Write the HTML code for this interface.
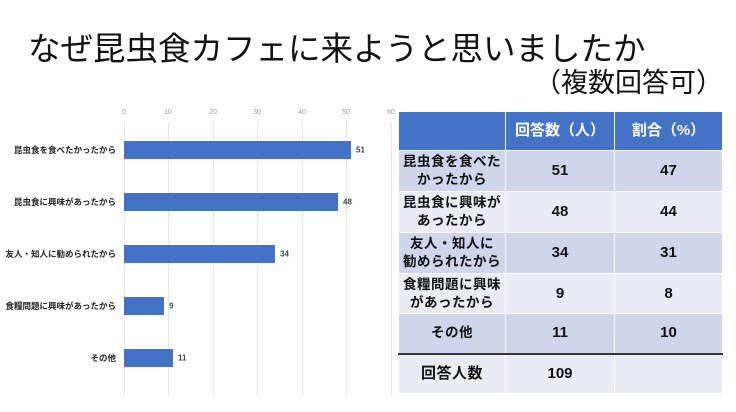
<!DOCTYPE html>
<html><head><meta charset="utf-8"><style>
body{margin:0;width:736px;height:412px;background:#fff;position:relative;overflow:hidden;font-family:"Liberation Sans","Noto Sans CJK JP",sans-serif;}
.a{position:absolute;white-space:nowrap}
.t{font-size:32.5px;color:#111;left:28px;top:23px;}
.s{font-size:27px;color:#111;left:534px;top:61px;}
.tick{font-size:7px;color:#999;top:109px;transform:translateX(-50%)}
.g{position:absolute;top:122px;height:273px;width:1px;background:#e6e6e6}
.bar{position:absolute;left:124px;height:18px;background:#4472C4}
.lab{font-size:8.5px;font-weight:bold;color:#222;right:620px;transform:translateY(-50%)}
.val{font-size:8px;font-weight:bold;color:#444;transform:translateY(-50%)}
table{position:absolute;left:398px;top:111px;border-collapse:collapse;font-weight:bold;font-size:15px;color:#111}
td{text-align:center;padding:0;border:1.5px solid #fff;line-height:18px}
td.c{font-size:13.5px;letter-spacing:0.5px}
</style></head><body>
<div class="a t">なぜ昆虫食カフェに来ようと思いましたか</div>
<div class="a s">（複数回答可）</div>
<div class="g" style="left:124px"></div><div class="g" style="left:168px"></div><div class="g" style="left:213px"></div><div class="g" style="left:257px"></div><div class="g" style="left:302px"></div><div class="g" style="left:346px"></div><div class="g" style="left:391px"></div>
<div class="a tick" style="left:124px">0</div><div class="a tick" style="left:168px">10</div><div class="a tick" style="left:213px">20</div><div class="a tick" style="left:257px">30</div><div class="a tick" style="left:302px">40</div><div class="a tick" style="left:346px">50</div><div class="a tick" style="left:391px">60</div>
<div class="bar" style="top:141px;width:227px"></div><div class="a lab" style="top:150px">昆虫食を食べたかったから</div><div class="a val" style="left:356px;top:150px">51</div>
<div class="bar" style="top:193px;width:214px"></div><div class="a lab" style="top:202px">昆虫食に興味があったから</div><div class="a val" style="left:343px;top:202px">48</div>
<div class="bar" style="top:245px;width:151px"></div><div class="a lab" style="top:254px">友人・知人に勧められたから</div><div class="a val" style="left:280px;top:254px">34</div>
<div class="bar" style="top:297px;width:40px"></div><div class="a lab" style="top:306px">食糧問題に興味があったから</div><div class="a val" style="left:169px;top:306px">9</div>
<div class="bar" style="top:349px;width:49px"></div><div class="a lab" style="top:358px">その他</div><div class="a val" style="left:178px;top:358px">11</div>
<table>
<tr style="height:39px;background:#4472C4;color:#fff"><td style="width:106px"></td><td style="width:108px">回答数（人）</td><td style="width:107px">割合（%）</td></tr>
<tr style="height:41px;background:#CFD5EA"><td class="c">昆虫食を食べた<br>かったから</td><td>51</td><td>47</td></tr>
<tr style="height:41px;background:#E9EBF5"><td class="c">昆虫食に興味が<br>あったから</td><td>48</td><td>44</td></tr>
<tr style="height:41px;background:#CFD5EA"><td class="c">友人・知人に<br>勧められたから</td><td>34</td><td>31</td></tr>
<tr style="height:40px;background:#E9EBF5"><td class="c">食糧問題に興味<br>があったから</td><td>9</td><td>8</td></tr>
<tr style="height:40px;background:#CFD5EA"><td class="c">その他</td><td>11</td><td>10</td></tr>
<tr style="height:40px;background:#E9EBF5"><td class="c" style="border-top:2px solid #333;font-size:15px">回答人数</td><td style="border-top:2px solid #333">109</td><td style="border-top:2px solid #333"></td></tr>
</table>
</body></html>
